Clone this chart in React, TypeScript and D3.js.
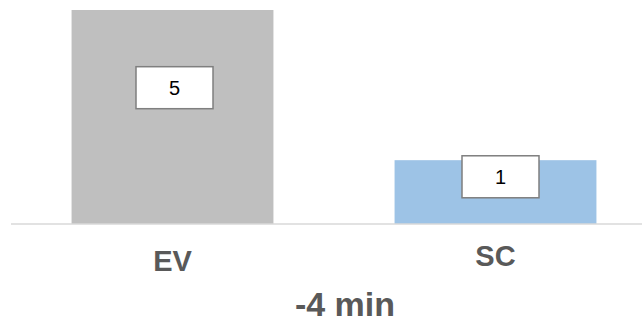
import React from "react";
import * as d3 from "d3";

const categories = ["EV", "SC"];
const values = [5, 1];
const valueLabels = ["5", "1"];
const barColors = ["#bfbfbf", "#9dc3e6"];
const title = "-4 min";

// label box placement relative to bar (px): [dx from band centre, dy from bar top]
const labelOffsets: [number, number][] = [
  [2, 56.7],
  [5, -4.4],
];
// category label baselines (px)
const catBaselines = [271, 266];

const W = 642;
const H = 322;

export default function App() {
  const x = d3
    .scaleBand<string>()
    .domain(categories)
    .range([11, 657])
    .paddingInner(0.375)
    .paddingOuter(0.1875);
  const y = d3.scaleLinear().domain([-0.7, 5]).range([224, 10]);
  const base = y(-0.7);
  const font = "Liberation Sans, Arial, sans-serif";
  const boxW = 77;
  const boxH = 42;

  return (
    <svg
      width={W}
      height={H}
      style={{ position: "absolute", left: 0, top: 0, background: "#fff" }}
    >
      {categories.map((c, i) => (
        <rect
          key={c}
          x={x(c)!}
          y={y(values[i])}
          width={x.bandwidth()}
          height={base - y(values[i])}
          fill={barColors[i]}
        />
      ))}
      <line x1={11} x2={657} y1={base} y2={base} stroke="#d9d9d9" strokeWidth={1.3} />
      {categories.map((c, i) => {
        const cx = x(c)! + x.bandwidth() / 2 + labelOffsets[i][0];
        const top = y(values[i]) + labelOffsets[i][1];
        return (
          <g key={"l" + c}>
            <rect
              x={cx - boxW / 2}
              y={top}
              width={boxW}
              height={boxH}
              fill="#fff"
              stroke="#7f7f7f"
              strokeWidth={1.5}
            />
            <text
              x={cx}
              y={top + boxH / 2}
              dy="0.36em"
              textAnchor="middle"
              fontFamily={font}
              fontSize={20}
              fill="#000"
            >
              {valueLabels[i]}
            </text>
          </g>
        );
      })}
      {categories.map((c, i) => (
        <text
          key={"t" + c}
          x={x(c)! + x.bandwidth() / 2}
          y={catBaselines[i]}
          textAnchor="middle"
          fontFamily={font}
          fontWeight="bold"
          fontSize={29}
          fill="#595959"
        >
          {c}
        </text>
      ))}
      <text
        x={345}
        y={316}
        textAnchor="middle"
        fontFamily={font}
        fontWeight="bold"
        fontSize={34}
        fill="#595959"
      >
        {title}
      </text>
    </svg>
  );
}
